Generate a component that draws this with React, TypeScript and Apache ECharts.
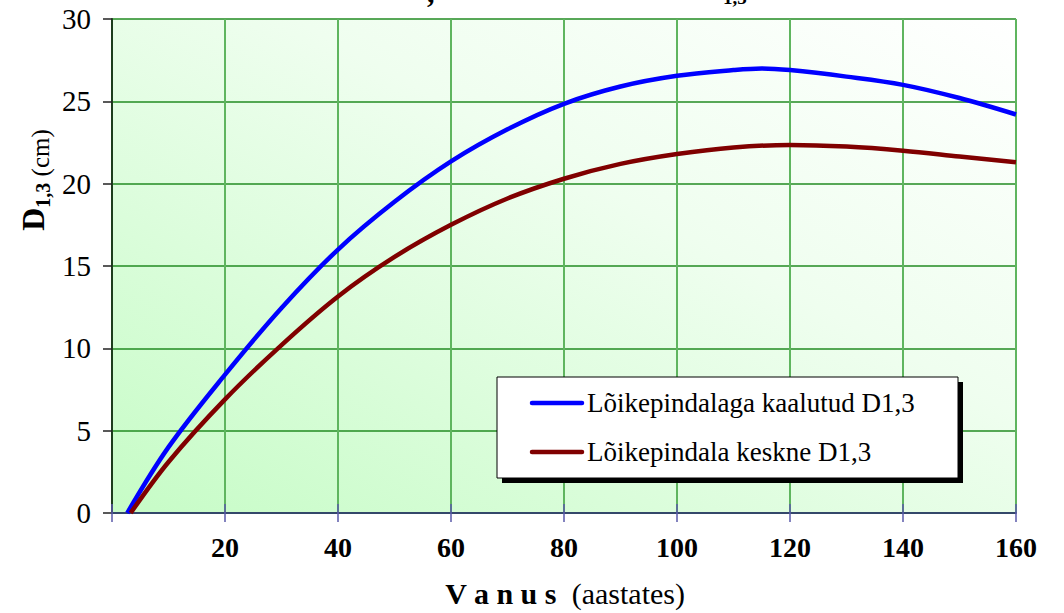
import React, { useEffect, useRef } from "react";
import * as echarts from "echarts";

// Age (years) and D1,3 (cm)
const weightedAges = [2.7, 10, 20, 30, 40, 50, 60, 70, 80, 90, 100, 110, 115, 120, 130, 140, 150, 160];
const weightedD = [0, 4.0, 8.4, 12.45, 16.0, 18.9, 21.35, 23.3, 24.85, 25.9, 26.55, 26.9, 27.0, 26.9, 26.5, 26.0, 25.2, 24.2];

const meanAges = [3.3, 10, 20, 30, 40, 50, 60, 70, 80, 90, 100, 110, 120, 130, 140, 150, 160];
const meanD = [0, 3.1, 6.9, 10.2, 13.15, 15.55, 17.5, 19.1, 20.3, 21.2, 21.8, 22.2, 22.35, 22.25, 22.0, 21.65, 21.3];

const seriesNames = ["Lõikepindalaga kaalutud D1,3", "Lõikepindala keskne D1,3"];
const seriesColors = ["#0000ff", "#800000"];

const xTicks = { min: 0, max: 160, interval: 20 };
const yTicks = { min: 0, max: 30, interval: 5 };

const FONT = "Liberation Serif";

export default function App() {
  const ref = useRef<HTMLDivElement>(null);

  useEffect(() => {
    if (!ref.current) return;
    const chart = echarts.init(ref.current, null, { renderer: "svg" });

    const toPairs = (xs: number[], ys: number[]) => xs.map((x, i) => [x, ys[i]]);

    const legendTop = 377;
    const legendLeft = 497;
    const legendW = 461;
    const legendH = 101;
    const rowY = [403, 452];

    chart.setOption({
      animation: false,
      backgroundColor: "#ffffff",
      textStyle: { fontFamily: FONT },
      grid: {
        left: 112,
        right: 48,
        top: 19,
        bottom: 100,
        show: true,
        borderWidth: 0,
        backgroundColor: new echarts.graphic.LinearGradient(0, 1, 1, 0, [
          { offset: 0, color: "#c6fcc6" },
          { offset: 0.6, color: "#effeef" },
          { offset: 1, color: "#ffffff" },
        ]),
      },
      xAxis: [
        {
          type: "value",
          min: xTicks.min,
          max: xTicks.max,
          interval: xTicks.interval,
          axisLine: { show: true, lineStyle: { color: "#34486a", width: 2 } },
          axisTick: { show: true, length: 9, lineStyle: { color: "#5a5aaa", width: 1.5 } },
          axisLabel: {
            formatter: (v: number) => (v === 0 ? "" : String(v)),
            fontFamily: FONT,
            fontSize: 28,
            fontWeight: "bold",
            color: "#000",
            margin: 20,
          },
          splitLine: { show: true, lineStyle: { color: "#5fb55f", width: 2 } },
        },
        {
          type: "value",
          position: "bottom",
          min: xTicks.min,
          max: xTicks.max,
          interval: xTicks.interval,
          axisLine: { show: false },
          axisTick: { show: true, inside: true, length: 9, lineStyle: { color: "#5a5aaa", width: 1.5 } },
          axisLabel: { show: false },
          splitLine: { show: false },
        },
      ],
      yAxis: {
        type: "value",
        min: yTicks.min,
        max: yTicks.max,
        interval: yTicks.interval,
        axisLine: { show: true, lineStyle: { color: "#1d3d1d", width: 2 } },
        axisTick: { show: true, length: 9, lineStyle: { color: "#222", width: 1.5 } },
        axisLabel: {
          fontFamily: FONT,
          fontSize: 29,
          color: "#000",
          margin: 21,
        },
        splitLine: { show: true, lineStyle: { color: "#228b22", width: 1.5 } },
      },
      series: [
        {
          name: seriesNames[0],
          type: "line",
          data: toPairs(weightedAges, weightedD),
          smooth: 0.35,
          showSymbol: false,
          lineStyle: { color: seriesColors[0], width: 4.5 },
          z: 3,
        },
        {
          name: seriesNames[1],
          type: "line",
          data: toPairs(meanAges, meanD),
          smooth: 0.35,
          showSymbol: false,
          lineStyle: { color: seriesColors[1], width: 4.5 },
          z: 3,
        },
      ],
      graphic: [
        // title fragments visible at the very top (the title itself lies above the picture)
        {
          type: "text",
          x: 427,
          y: -9,
          style: { text: ",", fontFamily: FONT, fontSize: 30, fontWeight: "bold", fill: "#000", align: "left", verticalAlign: "middle" },
        },
        {
          type: "text",
          x: 723,
          y: -3,
          style: { text: "1,3", fontFamily: FONT, fontSize: 19, fontWeight: "bold", fill: "#000", align: "left", verticalAlign: "middle" },
        },
        // y axis title
        {
          type: "text",
          x: 33,
          y: 180,
          rotation: Math.PI / 2,
          style: {
            text: "{d|D}{s|1,3}{c| (cm)}",
            fontFamily: FONT,
            fill: "#000",
            align: "center",
            verticalAlign: "middle",
            rich: {
              d: { fontFamily: FONT, fontSize: 32, fontWeight: "bold", lineHeight: 40, verticalAlign: "middle" },
              s: { fontFamily: FONT, fontSize: 20, fontWeight: "bold", lineHeight: 20, verticalAlign: "bottom" },
              c: { fontFamily: FONT, fontSize: 25, lineHeight: 34, verticalAlign: "bottom" },
            },
          },
        },
        // x axis title
        {
          type: "text",
          x: 565,
          y: 593,
          style: {
            text: "{v|V a n u s}{a|  (aastates)}",
            fontFamily: FONT,
            fill: "#000",
            align: "center",
            verticalAlign: "middle",
            rich: {
              v: { fontFamily: FONT, fontSize: 30, fontWeight: "bold" },
              a: { fontFamily: FONT, fontSize: 30 },
            },
          },
        },
        // legend
        {
          type: "rect",
          shape: { x: legendLeft + 5, y: legendTop + 5, width: legendW, height: legendH },
          style: { fill: "#000" },
          z: 10,
        },
        {
          type: "rect",
          shape: { x: legendLeft, y: legendTop, width: legendW, height: legendH },
          style: { fill: "#fff", stroke: "#000", lineWidth: 1 },
          z: 11,
        },
        ...seriesNames.flatMap((name, i) => [
          {
            type: "line",
            shape: { x1: 532, y1: rowY[i], x2: 582, y2: rowY[i] },
            style: { stroke: seriesColors[i], lineWidth: 4.5, lineCap: "round" },
            z: 12,
          },
          {
            type: "text",
            x: 587,
            y: rowY[i],
            style: { text: name, fontFamily: FONT, fontSize: 27, fill: "#000", align: "left", verticalAlign: "middle" },
            z: 12,
          },
        ]),
      ],
    });

    return () => chart.dispose();
  }, []);

  return (
    <div
      ref={ref}
      style={{ position: "fixed", left: 0, top: 0, width: 1064, height: 613 }}
    />
  );
}
